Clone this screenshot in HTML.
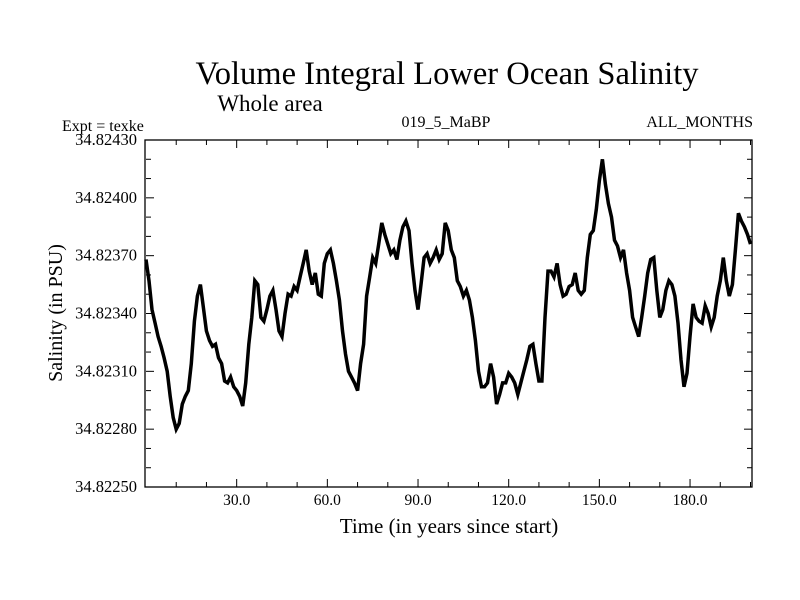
<!DOCTYPE html>
<html><head><meta charset="utf-8"><style>
body{margin:0;background:#fff}
svg{display:block;font-family:"Liberation Serif",serif}
</style></head><body>
<svg width="800" height="600" id="c">
<text x="447" y="84" font-size="32.5" text-anchor="middle">Volume Integral Lower Ocean Salinity</text>
<text x="270" y="111" font-size="23" text-anchor="middle">Whole area</text>
<text x="62" y="131" font-size="16">Expt = texke</text>
<text x="446" y="127" font-size="16" text-anchor="middle">019_5_MaBP</text>
<text x="753" y="127" font-size="16" text-anchor="end">ALL_MONTHS</text>
<text x="449" y="533" font-size="21" text-anchor="middle">Time (in years since start)</text>
<text transform="translate(62,313) rotate(-90)" font-size="20" text-anchor="middle">Salinity (in PSU)</text>
<g id="ax"></g>
</svg>
<script>
const yearStart = 0, yearEnd = 200.5;
const yMin = 34.82250, yMax = 34.82430;
const xTickValues = [30, 60, 90, 120, 150, 180];
const xTickLabels = ["30.0","60.0","90.0","120.0","150.0","180.0"];
const yTickValues = [34.82250,34.82280,34.82310,34.82340,34.82370,34.82400,34.82430];
const yTickLabels = ["34.82250","34.82280","34.82310","34.82340","34.82370","34.82400","34.82430"];
// salinity offsets above 34.82250 in units of 1e-5 PSU, one per year (0..200)
const salinityOffsets = [118,107,92,85,78,73,67,60,47,36,30,33,43,47,50,64,86,99,105,93,
81,76,73,74,67,64,55,54,57,52,50,47,42,54,74,88,107,105,88,86,
92,99,102,92,81,78,90,100,99,104,102,109,116,123,112,105,111,100,99,116,
121,123,116,107,97,81,69,60,57,54,50,64,74,99,109,119,116,126,137,131,
126,121,123,118,128,135,138,133,116,102,92,105,119,121,116,119,123,118,121,137,
133,123,119,107,104,99,102,97,88,76,60,52,52,54,64,57,43,48,54,54,
59,57,54,48,54,60,66,73,74,64,55,55,88,112,112,109,116,105,99,100,
104,105,111,102,100,102,119,131,133,144,159,170,157,147,140,128,125,119,123,111,
102,88,83,78,88,99,111,118,119,102,88,92,102,107,105,99,85,66,52,59,
78,95,88,86,85,94,90,83,88,99,107,119,107,99,105,123,142,138,135,131,126];
const L=146, R=752, T=140, B=487;
const sx = v => L + (v - yearStart) / (yearEnd - yearStart) * (R - L);
const sy = v => B - (v - yMin) / (yMax - yMin) * (B - T);
const NS="http://www.w3.org/2000/svg", g=document.getElementById('ax');
function mk(t,a){const e=document.createElementNS(NS,t);for(const k in a)e.setAttribute(k,a[k]);g.appendChild(e);return e;}
const frame=mk('rect',{x:L-1,y:T,width:R-L+1,height:B-T,fill:'none',stroke:'#000','stroke-width':1.3});


for(let yr=10;yr<yearEnd;yr+=10){const x=sx(yr),len=(yr%30===0)?8:5;
 const t1=mk('line',{x1:x,x2:x,y1:B,y2:B-len,stroke:'#000'});
 
 
 const t2=mk('line',{x1:x,x2:x,y1:T,y2:T+len,stroke:'#000'});
 
 }
xTickValues.forEach((v,i)=>{const t=mk('text',{x:sx(v),y:B+18,'font-size':15.5,'text-anchor':'middle'});t.textContent=xTickLabels[i];
 
 });
for(let k=0;k<=18;k++){const v=yMin+k*0.0001,y=sy(v),len=(k%3===0)?8:5;
 const t1=mk('line',{x1:L,x2:L+len,y1:y,y2:y,stroke:'#000'});
 
 
 const t2=mk('line',{x1:R,x2:R-len,y1:y,y2:y,stroke:'#000'});
 
 }
yTickValues.forEach((v,i)=>{const t=mk('text',{x:137,y:sy(v)+5,'font-size':16.5,'text-anchor':'end'});t.textContent=yTickLabels[i];
 
 });
let d='';salinityOffsets.forEach((o,i)=>{const yr=Math.min(i,yearEnd);d+=(i?'L':'M')+sx(yr).toFixed(1)+','+sy(yMin+o*1e-5).toFixed(1);});
const p=mk('path',{d:d,fill:'none',stroke:'#000','stroke-width':3.5,'stroke-linejoin':'miter'});


</script>
</body></html>
